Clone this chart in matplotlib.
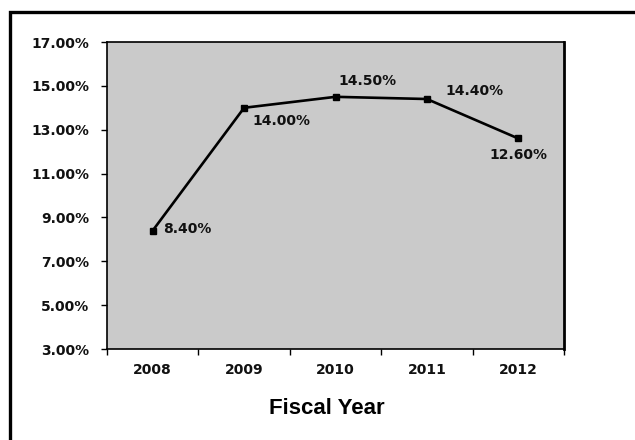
import matplotlib
matplotlib.use('Agg')
import matplotlib.pyplot as plt
from matplotlib.patches import Rectangle
from matplotlib.ticker import FuncFormatter, FixedLocator

# 各年度数据
years = ['2008', '2009', '2010', '2011', '2012']
rates = [8.40, 14.00, 14.50, 14.40, 12.60]
y_ticks = [3, 5, 7, 9, 11, 13, 15, 17]
# 数据标签相对数据点的偏移（单位：点）
label_offsets = [(25, 1.5), (27, -9.5), (23, 11.5), (34.5, 6), (0, -12)]

fig = plt.figure(figsize=(6.35, 4.4), dpi=100)
ax = fig.add_axes([107 / 635, 1 - 349 / 440, 457 / 635, 307 / 440])

# 外框
fig.patches.append(Rectangle((10 / 635, -0.1), 1.2, 1 - 12 / 440 + 0.1, transform=fig.transFigure,
                             fill=False, edgecolor='black', linewidth=2.4))

x = list(range(len(years)))
ax.set_facecolor('#cacaca')
ax.plot(x, rates, color='black', linewidth=1.9, marker='s', markersize=5, zorder=3)

for xi, v, off in zip(x, rates, label_offsets):
    ax.annotate('%.2f%%' % v, (xi, v), xytext=off, textcoords='offset points',
                ha='center', va='center', fontsize=10, fontweight='bold', color='#111111')

ax.set_xlim(-0.5, len(years) - 0.5)
ax.set_ylim(3, 17)
ax.set_yticks(y_ticks)
ax.yaxis.set_major_formatter(FuncFormatter(lambda v, p: '%.2f%%' % v))
ax.set_xticks(x)
ax.set_xticklabels(years)
ax.xaxis.set_minor_locator(FixedLocator([i - 0.5 for i in range(len(years) + 1)]))
ax.tick_params(axis='x', which='major', length=0, pad=10)
ax.tick_params(axis='x', which='minor', length=4, width=1, direction='out')
ax.tick_params(axis='y', length=4, width=1, pad=9)
for lab in ax.get_xticklabels() + ax.get_yticklabels():
    lab.set_fontsize(10)
    lab.set_fontweight('bold')
    lab.set_color('#111111')

for side in ['left', 'bottom', 'top']:
    ax.spines[side].set_linewidth(1.2)
ax.spines['right'].set_linewidth(2)

fig.text(327 / 635, 1 - 408 / 440, 'Fiscal Year', ha='center', va='center',
         fontsize=16, fontweight='bold', family='Liberation Sans')

fig.savefig('out.png', dpi=100)
